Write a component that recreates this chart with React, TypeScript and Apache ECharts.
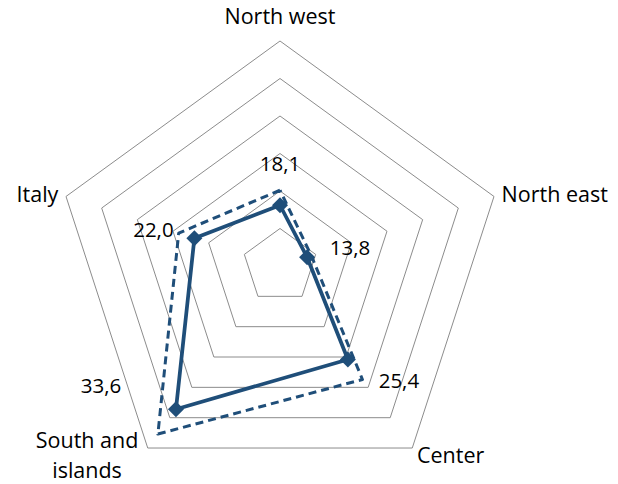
import React, { useEffect, useRef } from "react";
import * as echarts from "echarts";

// Axes of the radar, in drawing order (counter-clockwise from the top)
const areas = ["North west", "Italy", "South and islands", "Center", "North east"];
// Main series (solid line with diamond markers)
const shareMain = [18.1, 22.0, 33.6, 25.4, 13.8];
// Comparison series (dashed outline)
const shareRef = [20.1, 24.2, 37.7, 28.7, 14.4];
// Radial scale
const axisMin = 10;
const axisMax = 40;
const ringCount = 6;

// Pixel offsets of each value label from its marker
const labelOffsets: [number, number][] = [
  [0, -42],
  [-41, -9],
  [-75, -24],
  [51, 21],
  [43, -10],
];

const BLUE = "#1f4e79";
const FONT = "Open Sans";
const NAME_SIZE = 21.5;
const VALUE_SIZE = 20.5;

const fmt = (v: number) => v.toFixed(1).replace(".", ",");

export default function App() {
  const ref = useRef<HTMLDivElement>(null);

  useEffect(() => {
    if (!ref.current) return;
    const chart = echarts.init(ref.current, undefined, { renderer: "svg" });

    const labelSeries = areas.map((_, i) => ({
      type: "radar" as const,
      symbol: "circle",
      symbolSize: 1,
      silent: true,
      z: 5,
      itemStyle: { color: "rgba(0,0,0,0)" },
      lineStyle: { width: 0, opacity: 0 },
      data: [
        {
          value: shareMain,
          label: {
            show: true,
            position: "inside",
            offset: labelOffsets[i],
            color: "#000",
            fontFamily: FONT,
            fontSize: VALUE_SIZE,
            formatter: (p: any) => (p.value === shareMain[i] ? fmt(p.value) : ""),
          },
        },
      ],
    }));

    chart.setOption({
      animation: false,
      radar: {
        center: [280, 266],
        radius: 225,
        startAngle: 90,
        shape: "polygon",
        splitNumber: ringCount,
        indicator: areas.map((name) => ({ name, min: axisMin, max: axisMax })),
        axisLine: { show: false },
        axisTick: { show: false },
        axisLabel: { show: false },
        splitArea: { show: false },
        splitLine: { lineStyle: { color: "#8c8c8c", width: 1 } },
        nameGap: 8,
        axisName: {
          color: "#000",
          fontFamily: FONT,
          fontSize: NAME_SIZE,
          formatter: (name: string) => {
            if (name === "South and islands") return "{c|South and}\n{c|islands}";
            if (name === "North west") return "{t|North west}";
            return name;
          },
          rich: {
            c: {
              width: 112,
              align: "center",
              color: "#000",
              fontFamily: FONT,
              fontSize: NAME_SIZE,
              lineHeight: 30,
            },
            t: {
              color: "#000",
              fontFamily: FONT,
              fontSize: NAME_SIZE,
              padding: [0, 0, 7, 0],
            },
          },
        },
      },
      series: [
        {
          type: "radar",
          symbol: "none",
          z: 2,
          lineStyle: { color: BLUE, width: 3, type: [8, 5] },
          data: [{ value: shareRef }],
        },
        {
          type: "radar",
          symbol: "diamond",
          symbolSize: 16,
          z: 3,
          itemStyle: { color: BLUE },
          lineStyle: { color: BLUE, width: 3.75 },
          data: [{ value: shareMain }],
        },
        ...labelSeries,
      ],
    });

    return () => chart.dispose();
  }, []);

  return (
    <div
      ref={ref}
      style={{ position: "fixed", left: 0, top: 0, width: 618, height: 484, background: "#fff" }}
    />
  );
}
